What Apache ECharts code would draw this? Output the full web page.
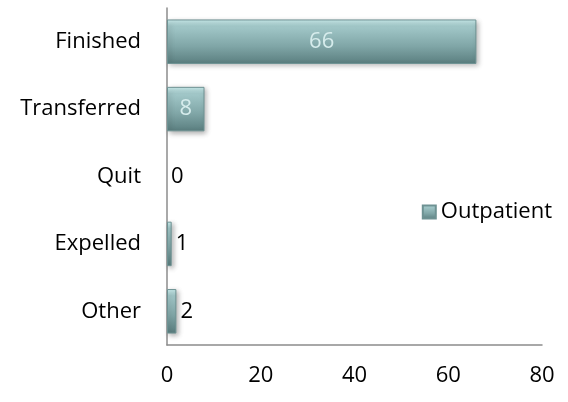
<!DOCTYPE html>
<html>
<head>
<meta charset="utf-8">
<script src="https://cdn.jsdelivr.net/npm/echarts@6/dist/echarts.min.js"></script>
<style>
  html, body { margin: 0; padding: 0; background: #fff; }
  #app { width: 568px; height: 402px; }
</style>
</head>
<body>
<div id="app"></div>
<script>
// categories bottom -> top (echarts category y axis draws first item at the bottom)
var categories = ['Other', 'Expelled', 'Quit', 'Transferred', 'Finished'];
var outpatient = [2, 1, 0, 8, 66];
var seriesName = 'Outpatient';
var xTicks = { min: 0, max: 80, interval: 20 };

var barColor = new echarts.graphic.LinearGradient(0, 0, 0, 1, [
    { offset: 0, color: '#cdf0f0' },
    { offset: 0.15, color: '#a2c8c9' },
    { offset: 0.6, color: '#80a6a7' },
    { offset: 1, color: '#5a7e7f' }
]);

var fontFam = '"Open Sans", sans-serif';
var fs = 22;

var data = outpatient.map(function (v) {
    var inside = v >= 5;
    return {
        value: v,
        // a zero bar draws nothing but still carries its label
        itemStyle: v === 0 ? { color: 'rgba(0,0,0,0)', borderWidth: 0, shadowColor: 'rgba(0,0,0,0)' } : undefined,
        label: inside ? {
            position: 'inside',
            color: '#d6ecec'
        } : {
            position: 'right',
            distance: 4,
            color: '#000'
        }
    };
});

var myChart = echarts.init(document.getElementById('app'));

var option = {
    animation: false,
    backgroundColor: '#fff',
    textStyle: { fontFamily: fontFam },
    legend: {
        data: [seriesName],
        right: 11,
        top: 196,
        itemWidth: 13,
        itemHeight: 13,
        itemGap: 6,
        icon: 'rect',
        textStyle: { fontSize: fs, color: '#000', fontFamily: fontFam }
    },
    grid: {
        left: 167,
        right: 26,
        top: 8,
        bottom: 57
    },
    xAxis: {
        type: 'value',
        min: xTicks.min,
        max: xTicks.max,
        interval: xTicks.interval,
        axisLine: { show: true, lineStyle: { color: '#8c8c8c', width: 1.5 } },
        axisTick: { show: false },
        splitLine: { show: false },
        axisLabel: { margin: 20, fontSize: fs, color: '#000', fontFamily: fontFam }
    },
    yAxis: {
        type: 'category',
        data: categories,
        axisLine: { show: true, lineStyle: { color: '#8c8c8c', width: 1.5 } },
        axisTick: { show: false },
        axisLabel: { margin: 26, fontSize: fs, color: '#000', fontFamily: fontFam }
    },
    series: [
        {
            name: seriesName,
            type: 'bar',
            data: data,
            barCategoryGap: '34%',
            itemStyle: {
                color: barColor,
                borderColor: '#6e9293',
                borderWidth: 1,
                shadowBlur: 5,
                shadowOffsetX: 2,
                shadowOffsetY: 2,
                shadowColor: 'rgba(0,0,0,0.3)'
            },
            label: {
                show: true,
                fontSize: fs,
                fontFamily: fontFam
            }
        }
    ]
};

myChart.setOption(option);
</script>
</body>
</html>
